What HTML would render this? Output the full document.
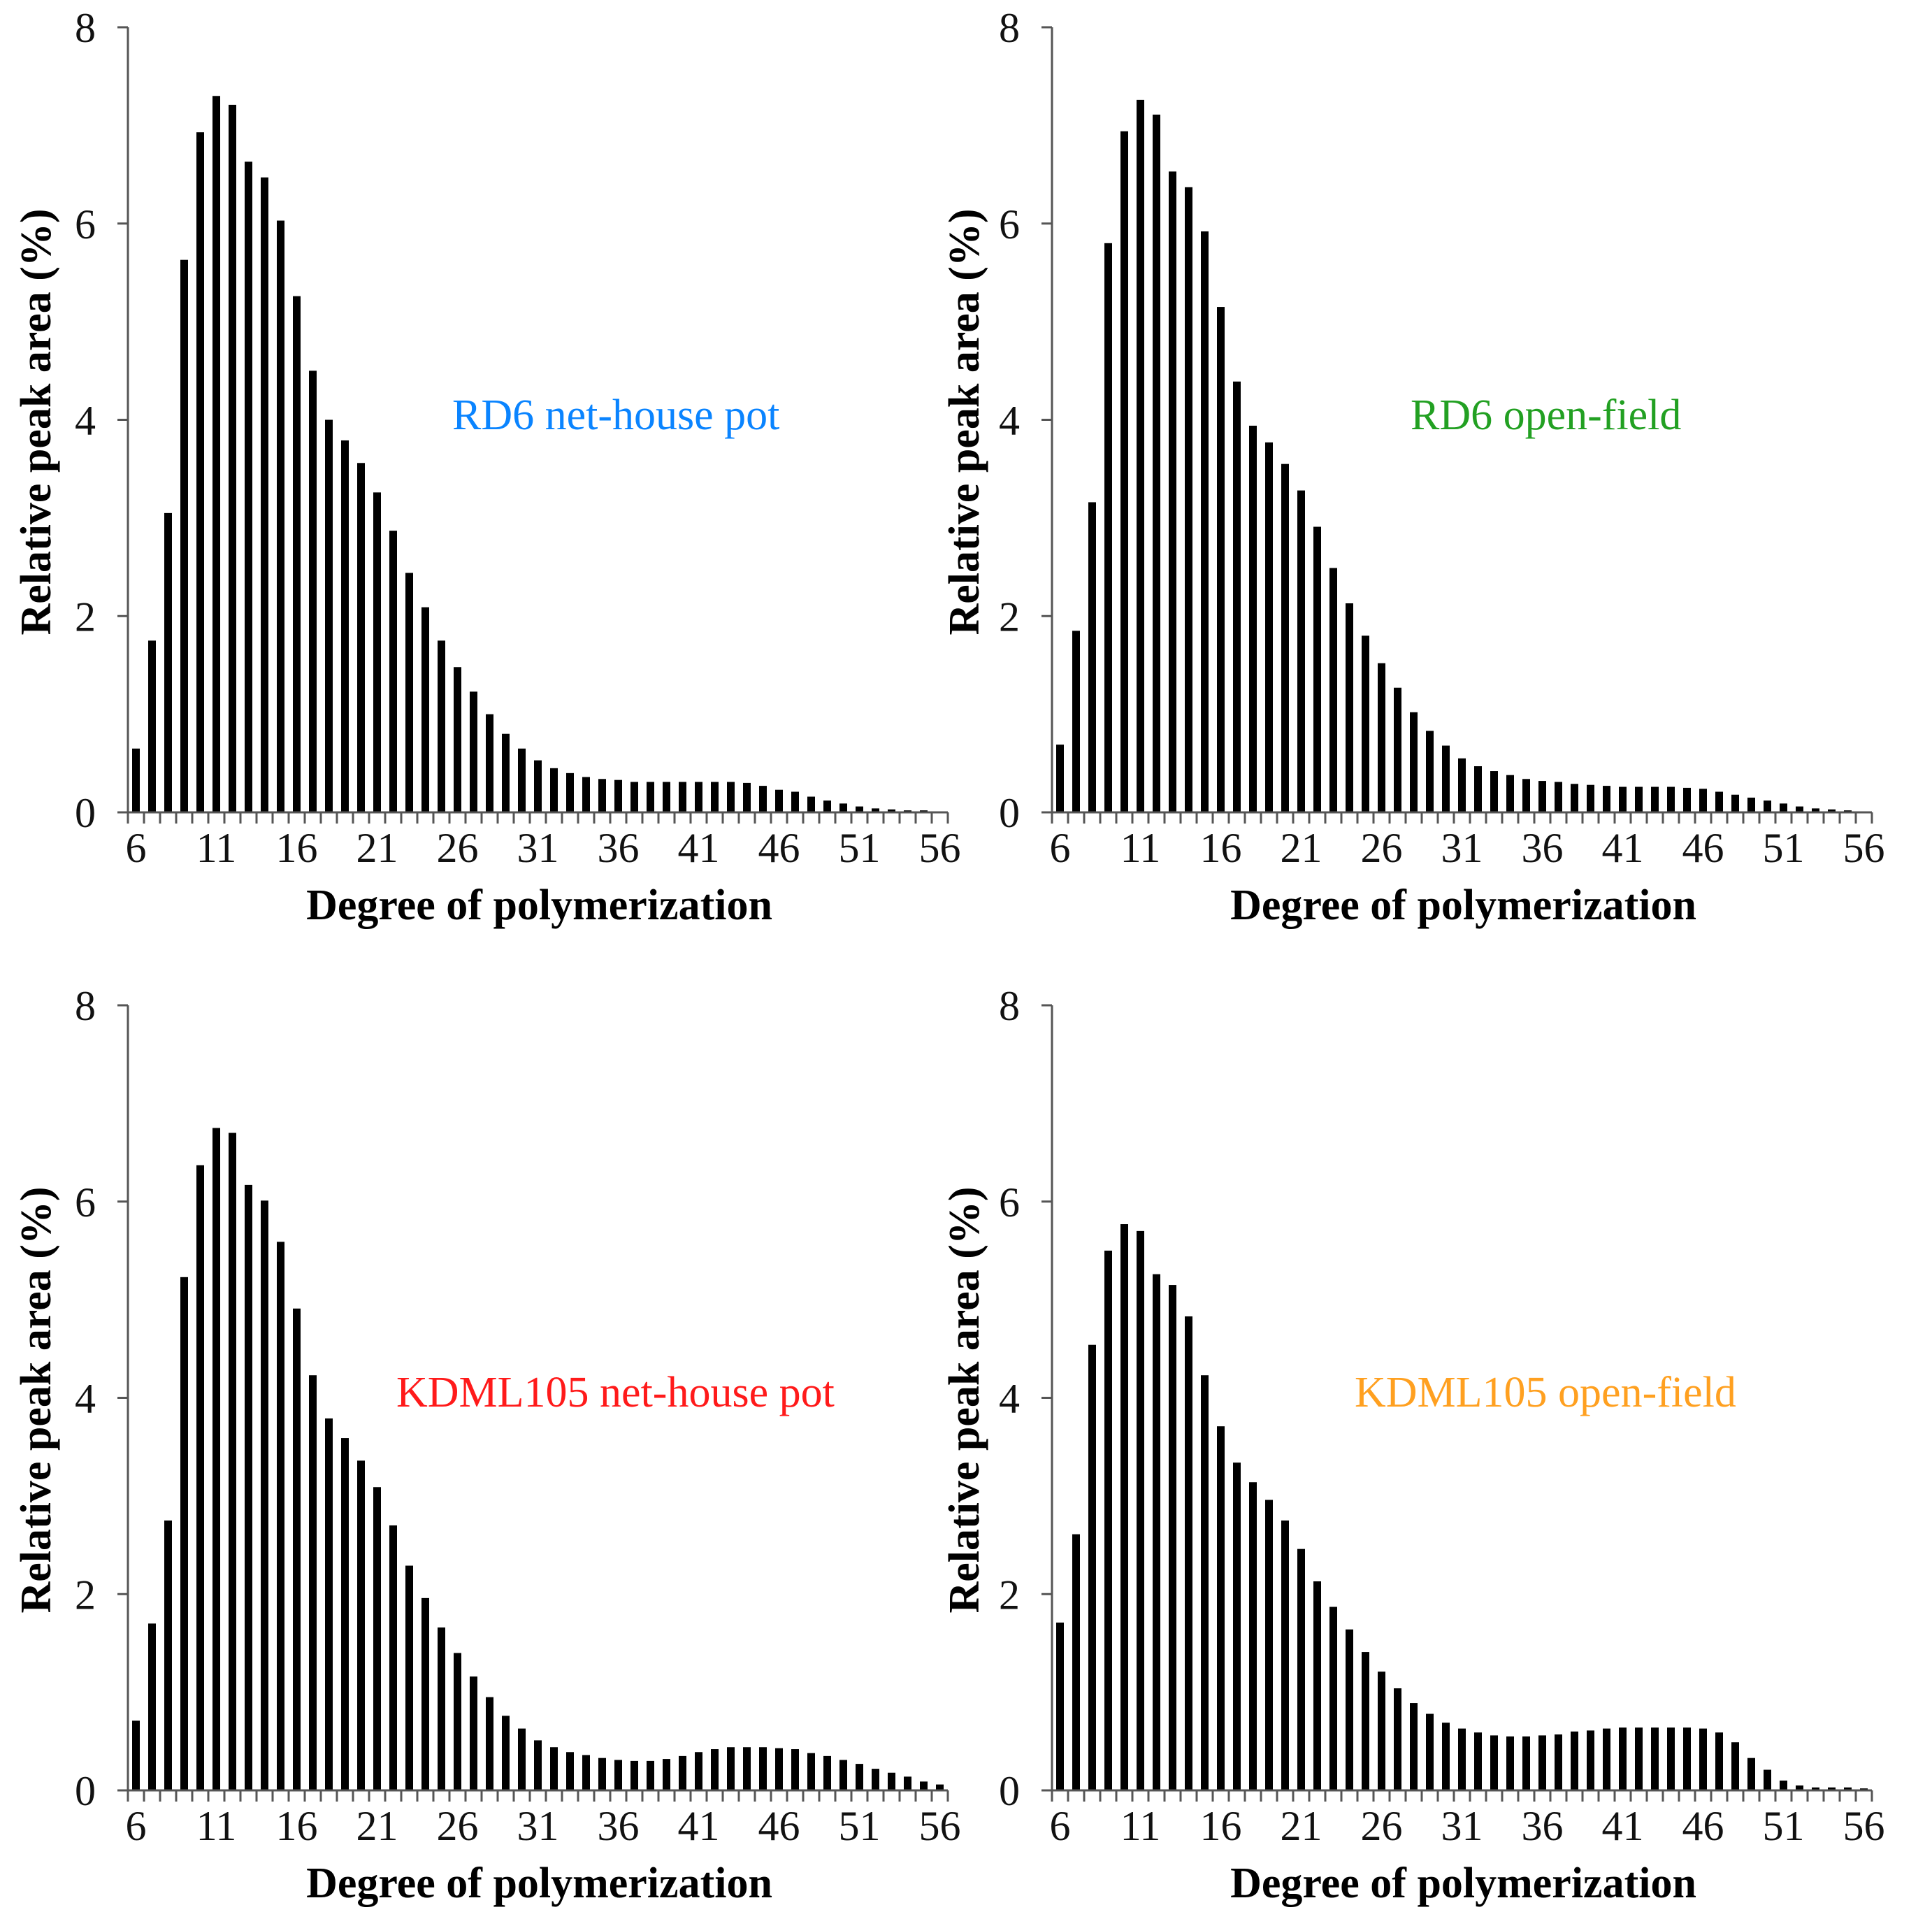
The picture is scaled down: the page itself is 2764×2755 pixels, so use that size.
<!DOCTYPE html>
<html><head><meta charset="utf-8"><style>
html,body{margin:0;padding:0;background:#fff;}
svg{display:block;}
</style></head><body>
<svg id="fig" xmlns="http://www.w3.org/2000/svg" width="2764" height="2755" viewBox="0 0 2764 2755"></svg>
<script>
const categories = [];
for (let d = 6; d <= 56; d++) categories.push(d);
const xTickLabels = ["6","11","16","21","26","31","36","41","46","51","56"];
const yTickLabels = ["0","2","4","6","8"];
const rd6NetHouse = [0.65,1.75,3.05,5.63,6.93,7.30,7.21,6.63,6.47,6.03,5.26,4.50,4.00,3.79,3.56,3.26,2.87,2.44,2.09,1.75,1.48,1.23,1.00,0.80,0.65,0.53,0.45,0.40,0.36,0.34,0.33,0.31,0.31,0.31,0.31,0.31,0.31,0.31,0.30,0.27,0.23,0.21,0.16,0.12,0.09,0.06,0.04,0.03,0.02,0.02,0.01];
const rd6OpenField = [0.69,1.85,3.16,5.80,6.94,7.26,7.11,6.53,6.37,5.92,5.15,4.39,3.94,3.77,3.55,3.28,2.91,2.49,2.13,1.80,1.52,1.27,1.02,0.83,0.68,0.55,0.47,0.42,0.38,0.34,0.32,0.31,0.29,0.28,0.27,0.26,0.26,0.26,0.26,0.25,0.24,0.21,0.18,0.15,0.12,0.09,0.06,0.04,0.03,0.02,0.01];
const kdmlNetHouse = [0.71,1.70,2.75,5.23,6.37,6.75,6.70,6.17,6.01,5.59,4.91,4.23,3.79,3.59,3.36,3.09,2.70,2.29,1.96,1.66,1.40,1.16,0.95,0.76,0.63,0.51,0.44,0.39,0.36,0.33,0.31,0.30,0.30,0.32,0.35,0.39,0.42,0.44,0.44,0.44,0.43,0.42,0.38,0.35,0.31,0.27,0.22,0.18,0.14,0.09,0.06];
const kdmlOpenField = [1.71,2.61,4.54,5.50,5.77,5.70,5.26,5.15,4.83,4.23,3.71,3.34,3.14,2.96,2.75,2.46,2.13,1.87,1.64,1.41,1.21,1.04,0.89,0.78,0.69,0.63,0.59,0.56,0.55,0.55,0.56,0.57,0.60,0.61,0.63,0.64,0.64,0.64,0.64,0.64,0.63,0.59,0.49,0.33,0.21,0.10,0.05,0.03,0.03,0.03,0.02];

const NS = "http://www.w3.org/2000/svg";
const svg = document.getElementById("fig");
function mk(tag, attrs, parent, text) {
  const e = document.createElementNS(NS, tag);
  for (const k in attrs) e.setAttribute(k, attrs[k]);
  if (text !== undefined) e.textContent = text;
  parent.appendChild(e);
  return e;
}
const panels = [
  {name:"rd6-net-house", values: rd6NetHouse, x0:183, y0:1162, y8:39, label:"RD6 net-house pot", color:"#0a84ff", lx:647, ly:614, tx:72},
  {name:"rd6-open-field", values: rd6OpenField, x0:1505, y0:1162, y8:39, label:"RD6 open-field", color:"#22a022", lx:2018, ly:614, tx:1400},
  {name:"kdml105-net-house", values: kdmlNetHouse, x0:183, y0:2561, y8:1438, label:"KDML105 net-house pot", color:"#ff1a1a", lx:567, ly:2012, tx:72},
  {name:"kdml105-open-field", values: kdmlOpenField, x0:1505, y0:2561, y8:1438, label:"KDML105 open-field", color:"#ffa020", lx:1938, ly:2012, tx:1400}
];
const slot = 23.0, barW = 11;
panels.forEach(p => {
  const g = mk("g", {}, svg);
  
  
  const yS = v => p.y0 - (p.y0 - p.y8) * v / 8;
  const xS = i => p.x0 + slot * i + slot / 2;
  const xEnd = p.x0 + slot * categories.length;
  p.values.forEach((v, i) => {
    const r = mk("rect", {x: xS(i) - barW/2, y: yS(v), width: barW, height: p.y0 - yS(v), fill:"#000"}, g);
    
    
  });
  const ya = mk("line", {x1:p.x0, y1:p.y8, x2:p.x0, y2:p.y0, stroke:"#555", "stroke-width":3}, g);
  
  
  const xa = mk("line", {x1:p.x0 - 15, y1:p.y0, x2:xEnd, y2:p.y0, stroke:"#555", "stroke-width":3}, g);
  
  
  for (let i = 0; i <= categories.length; i++) {
    const x = p.x0 + slot * i;
    mk("line", {x1:x, y1:p.y0, x2:x, y2:p.y0 + 16, stroke:"#555", "stroke-width":3}, g);
  }
  yTickLabels.forEach((t) => {
    const y = yS(parseFloat(t));
    mk("line", {x1:p.x0 - 15, y1:y, x2:p.x0, y2:y, stroke:"#555", "stroke-width":3}, g);
    const tl = mk("text", {x:p.x0 - 46, y:y + 21, "text-anchor":"end", "font-family":"Liberation Serif, serif", "font-size":60, fill:"#111"}, g, t);
    
    
  });
  xTickLabels.forEach(t => {
    const i = categories.indexOf(parseInt(t));
    const tl = mk("text", {x:xS(i), y:p.y0 + 71, "text-anchor":"middle", "font-family":"Liberation Serif, serif", "font-size":60, fill:"#111"}, g, t);
    
    
  });
  const xt = mk("text", {x:(p.x0 + xEnd)/2 + 2, y:p.y0 + 153, "text-anchor":"middle", "font-family":"Liberation Serif, serif", "font-weight":"bold", "font-size":62, fill:"#000"}, g, "Degree of polymerization");
  
  
  const cy = (p.y0 + p.y8) / 2 + 3;
  const yt = mk("text", {x:0, y:0, transform:`translate(${p.tx},${cy}) rotate(-90)`, "text-anchor":"middle", "font-family":"Liberation Serif, serif", "font-weight":"bold", "font-size":62, fill:"#000"}, g, "Relative peak area (%)");
  
  
  const lb = mk("text", {x:p.lx, y:p.ly, "font-family":"Liberation Serif, serif", "font-size":62, fill:p.color}, g, p.label);
  
  
});
</script>
</body></html>
